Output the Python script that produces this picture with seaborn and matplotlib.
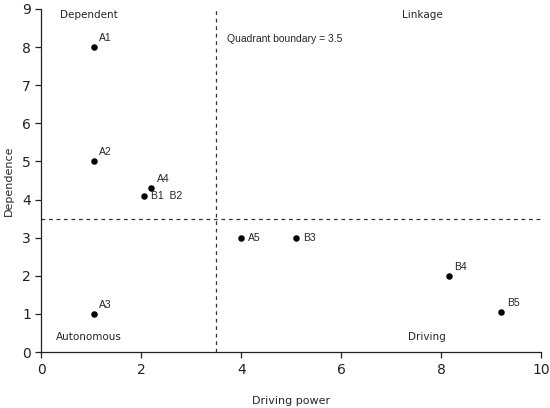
import pandas as pd
import matplotlib.pyplot as plt
import seaborn as sns

# Data
labels = ["A1", "A2", "A3", "A4", "B1", "A5", "B3", "B4", "B5"]
driving = [1.05, 1.05, 1.05, 2.2, 2.05, 4.0, 5.1, 8.15, 9.2]
dependence = [8.0, 5.0, 1.0, 4.3, 4.1, 3.0, 3.0, 2.0, 1.05]
point_text = ["A1", "A2", "A3", "A4", "B1  B2", "A5", "B3", "B4", "B5"]
boundary = 3.5

df = pd.DataFrame({"label": labels, "Driving power": driving, "Dependence": dependence})

sns.set_style("ticks")
plt.rcParams["font.family"] = ["DejaVu Sans"]
arial = ["Liberation Sans", "DejaVu Sans"]

fig = plt.figure(figsize=(5.5, 4.08), dpi=100)
ax = fig.add_axes([0.075, 0.137, 0.909, 0.841])

sns.scatterplot(data=df, x="Driving power", y="Dependence", color="black",
                s=22, edgecolor="black", linewidth=0, ax=ax, zorder=3)

# quadrant lines
ax.axvline(boundary, color="#333333", ls=(0, (3, 3)), lw=0.9)
ax.axhline(boundary, color="#333333", ls=(0, (3, 3)), lw=0.9)

# point labels: up-right for most, right for the ones near the centre
for lab, x, y, txt in zip(labels, driving, dependence, point_text):
    if lab in ("B1", "A5", "B3"):
        off, va = (5, 0), "center"
    else:
        off, va = (4, 3), "bottom"
    ax.annotate(txt, (x, y), xytext=off, textcoords="offset points",
                fontsize=7.5, va=va, ha="left", family=arial)

# quadrant names
ax.text(0.95, 8.85, "Dependent", fontsize=7.5, ha="center", va="center")
ax.text(7.62, 8.85, "Linkage", fontsize=7.5, ha="center", va="center")
ax.text(0.95, 0.4, "Autonomous", fontsize=7.5, ha="center", va="center")
ax.text(7.72, 0.4, "Driving", fontsize=7.5, ha="center", va="center")
ax.text(3.72, 8.2, "Quadrant boundary = 3.5", fontsize=7.5, ha="left", va="center",
        family=arial)

ax.set_xlim(0, 10)
ax.set_ylim(0, 9)
ax.set_xticks(range(0, 11, 2))
ax.set_yticks(range(0, 10))
ax.tick_params(labelsize=10, length=4, width=0.9, direction="out", colors="#222222")
ax.set_xlabel("Driving power", fontsize=8, labelpad=14)
ax.set_ylabel("Dependence", fontsize=8, labelpad=6)
for side in ["top", "right"]:
    ax.spines[side].set_visible(False)
for side in ["left", "bottom"]:
    ax.spines[side].set_linewidth(0.9)
    ax.spines[side].set_color("#222222")

fig.savefig("out.png", dpi=100)
